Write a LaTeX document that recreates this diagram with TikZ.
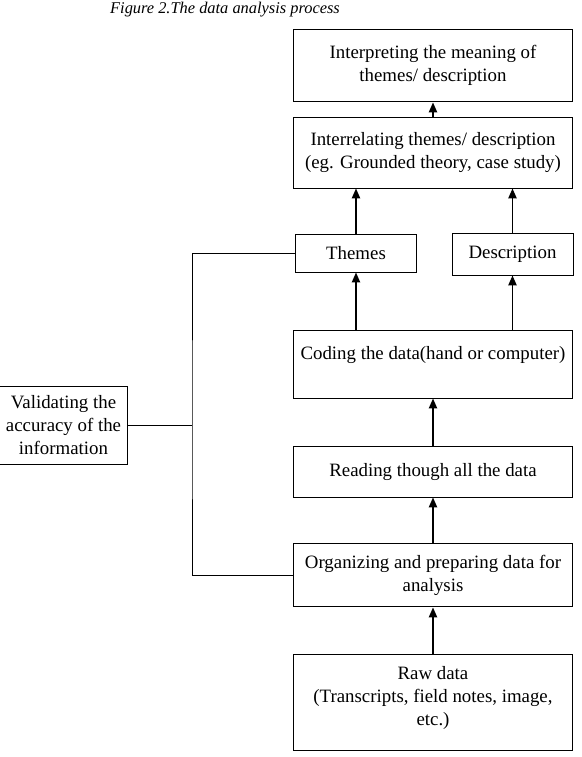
\documentclass[tikz,border=0pt]{standalone}
\usepackage{fontspec}
\setmainfont{Liberation Serif}
\usepackage{tikz}
\usetikzlibrary{arrows.meta}
\tikzset{
    stage/.style={
        draw,
        line width=0.6pt,
        align=center,
        inner sep=2pt,
        font=\fontsize{11.5}{14}\selectfont
    },
    wide/.style={
        stage,
        minimum width=169.6pt
    },
    arr/.style={
        line width=0.9pt,
        -{Triangle[length=6pt,width=5pt]}
    },
    link/.style={line width=0.6pt}
}

\begin{document}
\begin{tikzpicture}[x=0.61pt, y=-0.61pt]
\useasboundingbox (0,0) rectangle (581,757);

\node[anchor=base, font=\fontsize{10}{12}\selectfont\itshape] (caption) at (225,13) {Figure 2.The data analysis process};

\node[wide, minimum height=44.5pt] (interp) at (433,65.5) {Interpreting the meaning of\\themes/ description};
\node[wide, minimum height=43.3pt] (interrel) at (433,152.5) {Interrelating themes/ description\\(eg. Grounded theory, case study)};
\node[stage, minimum width=74.4pt, minimum height=23.2pt] (themes) at (356,253) {Themes};
\node[stage, minimum width=73.8pt, minimum height=25.6pt] (descr) at (512.5,254) {Description};
\node[wide, minimum height=40.9pt] (coding) at (433,364.5) {Coding the data(hand or computer)\\\mbox{}};
\node[wide, minimum height=31.1pt] (reading) at (433,471.5) {Reading though all the data};
\node[wide, minimum height=39pt] (organize) at (433,575) {Organizing and preparing data for\\analysis};
\node[wide, minimum height=58pt] (raw) at (433,702.5) {Raw data\\(Transcripts, field notes, image,\\etc.)\\[-6pt]\mbox{}};
\node[stage, minimum width=77.5pt, minimum height=47.6pt] (valid) at (63.5,425) {Validating the\\accuracy of the\\information};

\coordinate (junction) at (192,425);

\draw[arr] (raw) -- (organize);
\draw[arr] (organize) -- (reading);
\draw[arr] (reading) -- (coding);
\draw[arr] (coding.north -| themes.south) -- (themes);
\draw[arr] (coding.north -| descr.south) -- (descr);
\draw[arr] (themes) -- (themes.south |- interrel.south);
\draw[arr] (descr) -- (descr.south |- interrel.south);
\draw[arr] (interrel) -- (interp);

\draw[link] (themes.west) -| (junction) |- (organize.west);
\draw[link] (valid.east) -- (junction);
\end{tikzpicture}
\end{document}
